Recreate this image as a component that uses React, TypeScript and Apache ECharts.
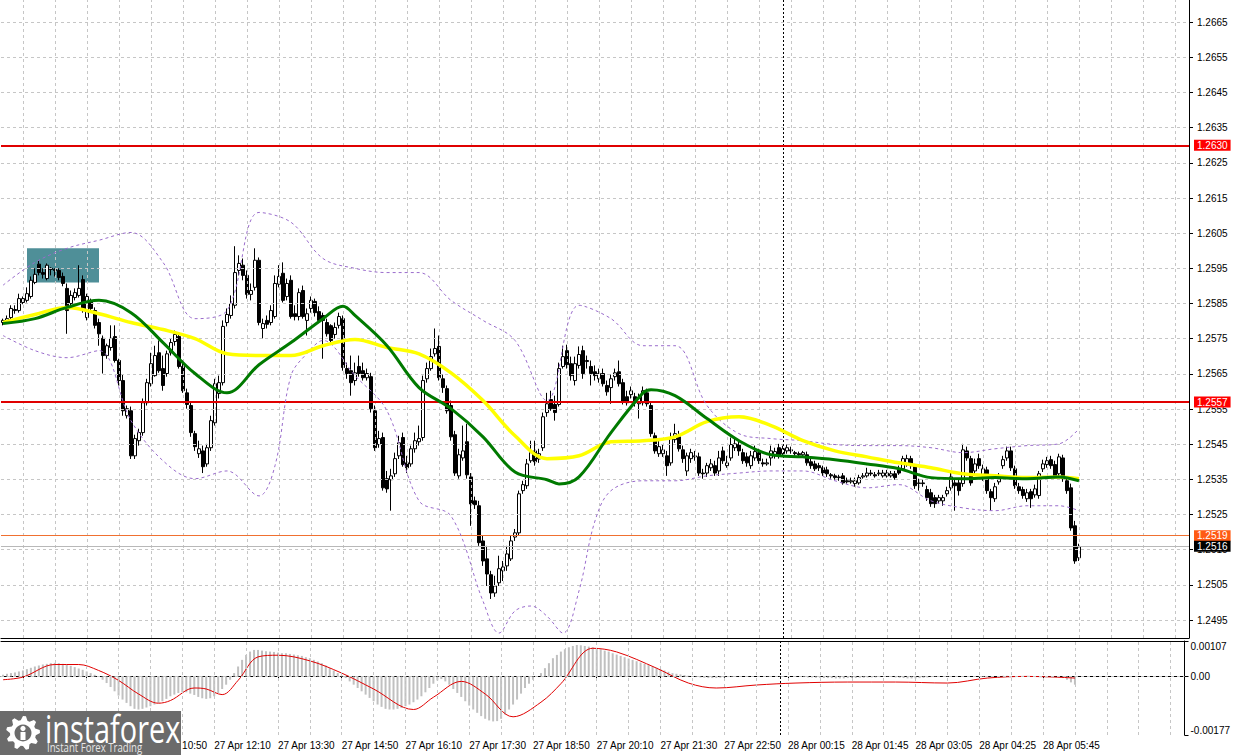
import React, { useEffect, useRef } from 'react';
import * as echarts from 'echarts';

// ---------- axis labels ----------
const priceTicks = [1.2495, 1.2505, 1.2515, 1.2525, 1.2535, 1.2545, 1.2555, 1.2565, 1.2575, 1.2585, 1.2595, 1.2605, 1.2615, 1.2625, 1.2635, 1.2645, 1.2655, 1.2665];
const macdTicks = [-0.00177, 0, 0.00107];
const timeLabels = [
  '27 Apr 08:10', '27 Apr 09:30', '27 Apr 10:50', '27 Apr 12:10', '27 Apr 13:30', '27 Apr 14:50',
  '27 Apr 16:10', '27 Apr 17:30', '27 Apr 18:50', '27 Apr 20:10', '27 Apr 21:30', '27 Apr 22:50',
  '28 Apr 00:15', '28 Apr 01:45', '28 Apr 03:05', '28 Apr 04:25', '28 Apr 05:45',
];
const LABEL_START = 5;
const LABEL_STEP = 16;
const GRID_STEP = 8;
const SLOT_COUNT = 297;
const DAY_SEPARATOR = 195;

// ---------- M5 candles: [open, close, low, high] in points (price x 100000) ----------
const candlePoints = [
  [125796,125802,125788,125807],[125799,125807,125793,125816],[125810,125836,125802,125845],[125833,125830,125821,125845],
  [125830,125864,125824,125878],[125853,125864,125848,125870],[125859,125878,125853,125896],[125870,125916,125864,125927],
  [125910,125933,125905,125950],[125962,125938,125930,125973],[125938,125933,125921,125950],[125921,125959,125916,125964],
  [125950,125947,125930,125953],[125947,125944,125927,125950],[125944,125924,125916,125950],[125927,125907,125899,125938],
  [125893,125830,125764,125907],[125850,125873,125842,125887],[125867,125881,125859,125893],[125873,125893,125867,125959],
  [125918,125830,125824,125930],[125810,125870,125802,125878],[125859,125836,125824,125864],[125830,125788,125779,125839],
  [125796,125764,125730,125807],[125751,125702,125651,125759],[125702,125730,125693,125736],[125725,125751,125716,125788],
  [125756,125688,125682,125788],[125688,125631,125617,125693],[125631,125545,125531,125648],[125531,125551,125523,125560],
  [125545,125417,125408,125557],[125417,125466,125408,125477],[125460,125483,125446,125494],[125483,125568,125474,125580],
  [125568,125625,125560,125636],[125622,125679,125614,125710],[125645,125702,125642,125730],[125710,125659,125653,125745],
  [125665,125617,125602,125702],[125651,125707,125642,125716],[125710,125739,125702,125750],[125742,125762,125730,125773],
  [125756,125671,125665,125767],[125671,125602,125596,125688],[125596,125563,125551,125608],[125560,125483,125471,125568],
  [125480,125443,125431,125488],[125423,125437,125411,125460],[125431,125386,125368,125446],[125394,125440,125386,125451],
  [125440,125517,125431,125531],[125511,125622,125503,125636],[125594,125625,125580,125645],[125625,125785,125617,125802],
  [125796,125819,125785,125836],[125816,125850,125807,125873],[125845,125938,125836,126013],[125944,125964,125930,125987],
  [125959,125930,125916,125978],[125930,125876,125864,125944],[125876,125887,125859,125907],[125896,125973,125887,126007],
  [125973,125796,125788,125981],[125779,125793,125751,125807],[125802,125791,125779,125816],[125796,125830,125788,125845],
  [125813,125907,125807,125930],[125905,125927,125896,125959],[125936,125859,125853,125967],[125870,125907,125859,125921],
  [125916,125813,125807,125930],[125821,125813,125802,125845],[125813,125881,125802,125893],[125887,125813,125807,125901],
  [125802,125821,125759,125836],[125836,125859,125824,125870],[125856,125824,125813,125864],[125827,125802,125796,125842],
  [125816,125802,125693,125824],[125796,125764,125756,125807],[125787,125745,125739,125791],[125762,125782,125750,125796],
  [125788,125813,125779,125824],[125807,125668,125659,125816],[125665,125651,125636,125682],[125659,125625,125588,125702],
  [125631,125653,125617,125682],[125671,125651,125642,125702],[125659,125639,125631,125682],[125639,125651,125631,125665],
  [125642,125551,125540,125653],[125545,125440,125431,125560],[125449,125466,125440,125488],[125469,125326,125318,125483],
  [125352,125323,125312,125374],[125349,125360,125261,125380],[125366,125409,125357,125426],[125417,125454,125408,125474],
  [125469,125392,125386,125483],[125397,125383,125368,125417],[125394,125437,125386,125446],[125437,125460,125426,125483],
  [125457,125466,125446,125503],[125469,125631,125460,125645],[125636,125665,125625,125682],[125665,125699,125659,125722],
  [125707,125722,125699,125779],[125728,125639,125631,125759],[125636,125611,125596,125648],[125608,125545,125537,125617],
  [125560,125471,125460,125574],[125477,125368,125360,125488],[125360,125420,125352,125437],[125411,125431,125403,125503],
  [125457,125363,125352,125508],[125357,125280,125218,125368],[125289,125278,125266,125301],[125275,125170,125161,125289],
  [125175,125118,125104,125190],[125124,125081,125047,125161],[125079,125027,125010,125090],[125027,125047,125016,125076],
  [125056,125096,125047,125133],[125090,125101,125061,125118],[125104,125138,125090,125161],[125124,125175,125118,125190],
  [125186,125198,125175,125209],[125198,125309,125190,125318],[125318,125335,125309,125346],[125332,125394,125323,125408],
  [125403,125426,125397,125460],[125431,125400,125389,125460],[125408,125423,125397,125437],[125440,125528,125431,125540],
  [125540,125565,125528,125596],[125577,125551,125545,125602],[125563,125540,125517,125588],[125563,125665,125557,125682],
  [125671,125699,125665,125730],[125716,125676,125665,125733],[125679,125645,125631,125699],[125631,125679,125617,125699],
  [125674,125705,125665,125728],[125716,125651,125636,125730],[125685,125688,125665,125702],[125671,125651,125617,125688],
  [125656,125645,125631,125674],[125636,125651,125625,125665],[125651,125622,125614,125665],[125617,125599,125588,125631],
  [125611,125636,125565,125648],[125642,125653,125631,125665],[125656,125622,125614,125688],[125625,125571,125563,125636],
  [125585,125568,125560,125602],[125591,125602,125580,125614],[125585,125568,125557,125596],[125565,125582,125523,125594],
  [125568,125602,125560,125614],[125596,125565,125557,125608],[125560,125480,125471,125568],[125474,125431,125423,125483],
  [125423,125443,125414,125460],[125423,125434,125414,125449],[125417,125389,125360,125431],[125397,125466,125389,125483],
  [125463,125480,125454,125508],[125471,125437,125429,125488],[125434,125409,125397,125446],[125374,125417,125360,125426],
  [125409,125426,125397,125437],[125414,125417,125403,125431],[125414,125368,125360,125426],[125368,125366,125352,125380],
  [125368,125389,125357,125397],[125383,125394,125374,125408],[125389,125368,125360,125403],[125374,125411,125360,125431],
  [125431,125403,125394,125443],[125389,125397,125383,125417],[125411,125449,125403,125469],[125440,125451,125431,125466],
  [125449,125431,125417,125460],[125426,125403,125394,125437],[125414,125397,125386,125426],[125389,125417,125380,125431],
  [125411,125429,125403,125446],[125426,125403,125394,125437],[125397,125394,125386,125409],[125394,125397,125389,125409],
  [125411,125431,125389,125446],[125417,125429,125409,125440],[125440,125417,125409,125451],[125423,125437,125414,125446],
  [125431,125440,125423,125449],[125434,125431,125423,125443],[125426,125423,125417,125431],[125423,125420,125411,125429],
  [125420,125426,125414,125431],[125420,125397,125389,125429],[125400,125389,125380,125409],[125394,125380,125374,125403],
  [125389,125383,125374,125397],[125383,125368,125360,125389],[125377,125366,125357,125386],[125363,125360,125352,125368],
  [125360,125355,125349,125366],[125357,125355,125346,125363],[125360,125340,125335,125368],[125346,125343,125338,125355],
  [125343,125346,125338,125355],[125338,125346,125329,125355],[125340,125355,125335,125363],[125357,125360,125352,125368],
  [125360,125368,125355,125383],[125368,125366,125360,125377],[125363,125360,125355,125371],[125366,125368,125360,125377],
  [125360,125368,125355,125377],[125360,125368,125355,125377],[125360,125366,125355,125374],[125366,125355,125349,125374],
  [125380,125368,125363,125389],[125380,125409,125374,125417],[125394,125409,125386,125420],[125409,125389,125380,125417],
  [125386,125332,125323,125394],[125338,125340,125318,125352],[125340,125338,125329,125349],[125321,125298,125289,125332],
  [125312,125281,125272,125323],[125298,125281,125269,125306],[125289,125298,125281,125306],[125289,125298,125275,125306],
  [125309,125318,125301,125329],[125326,125357,125318,125374],[125340,125332,125261,125352],[125340,125318,125304,125352],
  [125338,125434,125329,125451],[125431,125411,125403,125443],[125409,125340,125332,125417],[125374,125394,125363,125409],
  [125409,125389,125380,125423],[125360,125380,125346,125392],[125377,125318,125309,125386],[125315,125298,125261,125323],
  [125295,125329,125286,125340],[125343,125357,125335,125368],[125389,125406,125380,125417],[125411,125431,125403,125443],
  [125431,125383,125374,125443],[125380,125332,125323,125389],[125329,125318,125309,125340],[125321,125304,125295,125329],
  [125295,125312,125286,125323],[125315,125295,125269,125323],[125306,125323,125298,125335],[125304,125366,125295,125374],
  [125380,125394,125371,125406],[125392,125403,125383,125414],[125406,125389,125380,125417],[125392,125360,125352,125403],
  [125366,125414,125357,125423],[125411,125352,125343,125420],[125346,125318,125309,125355],[125326,125212,125204,125338],
  [125218,125118,125110,125232],[125127,125158,125118,125167],
];

// ---------- indicator lines: [bar index, price] ----------
const maYellow = [
  [0,1.25796],[8,1.25819],[16,1.25839],[24,1.25821],[32,1.25796],[40,1.25776],[48,1.2575],[56,1.25707],
  [64,1.25702],[72,1.25702],[80,1.2573],[88,1.25748],[96,1.25725],[104,1.25707],[112,1.25653],[120,1.25574],
  [128,1.25474],[136,1.25409],[144,1.25417],[152,1.25457],[160,1.2546],[168,1.25471],[176,1.25514],[184,1.25528],
  [192,1.25503],[200,1.2546],[208,1.25431],[216,1.25414],[224,1.25397],[232,1.25383],[240,1.25366],[248,1.2536],
  [256,1.25355],[264,1.25357],[269,1.25352],
];
const maGreen = [
  [0,1.25793],[8,1.25807],[16,1.25839],[24,1.25859],[32,1.25824],[40,1.25739],[48,1.25651],[56,1.25596],
  [64,1.25676],[72,1.25739],[80,1.25807],[85,1.25842],[88,1.25816],[96,1.2573],[104,1.25611],[112,1.25551],[120,1.25471],
  [128,1.25371],[136,1.25349],[139,1.25337],[144,1.25357],[152,1.25483],[160,1.25596],[162,1.25605],[168,1.25588],[176,1.25523],
  [184,1.2546],[192,1.2542],[200,1.25414],[208,1.25406],[216,1.25394],[224,1.2538],[232,1.25355],[240,1.25352],
  [248,1.25355],[256,1.25352],[264,1.25357],[269,1.25346],
];
const bandUpper = [
  [0,1.25902],[8,1.25967],[16,1.26007],[24,1.2603],[32,1.26052],[40,1.25967],[48,1.25807],[56,1.2583],
  [64,1.26109],[72,1.26081],[80,1.25978],[88,1.2595],[96,1.25938],[104,1.25938],[112,1.25859],[120,1.25802],
  [128,1.25745],[136,1.25574],[144,1.25845],[152,1.25807],[160,1.2573],[168,1.2573],[176,1.2556],[184,1.2548],
  [192,1.25466],[200,1.2546],[208,1.25449],[216,1.25446],[224,1.25446],[232,1.2544],[240,1.25426],[248,1.25437],
  [256,1.25446],[264,1.25451],[269,1.25494],
];
const bandLower = [
  [0,1.25759],[8,1.25716],[16,1.25696],[24,1.25716],[32,1.25517],[40,1.25403],[48,1.25352],[56,1.25374],
  [64,1.25303],[68,1.25389],[72,1.25645],[76,1.25708],[80,1.25745],[88,1.25645],[96,1.25545],[104,1.25289],
  [112,1.25246],[120,1.25004],[124,1.24913],[128,1.24976],[132,1.2499],[136,1.24961],[140,1.24913],[144,1.25033],
  [148,1.25232],[152,1.25318],[160,1.25346],[168,1.25346],[176,1.2536],[184,1.25368],[192,1.25374],[200,1.25374],
  [208,1.25346],[216,1.25326],[224,1.25335],[232,1.25289],[240,1.25269],[248,1.25261],[256,1.25275],[264,1.25275],
  [269,1.25261],
];

// ---------- MACD (values x 100000) ----------
const macdHistPoints = [
  5,8,10,12, 15,18,22,26,30,33,36,38,40,41, 40,38,35,32,28,24,20, 15,10,5,0,
  -10,-20,-32,-45,-58,-70,-80,-90,-98, -100,-98,-94,-90,-85,-80, -75,-68,-60,-55,-50,-48,-48,
  -52,-56,-62,-66,-68,-66,-60,-50, -38,-25,-10, 10,30,50,65,75,80, 80,78,76,75,74,72,70,70,68,66,
  64,62,58,55,50,45,40,33,25,18,10, 3,-5,
  -15,-25,-35,-45,-55,-65,-75,-85,-92,-98,-100,-100, -98,-95,-90,-85,-78,-70,-60,-48,
  -35,-22,-12,-8, -15,-25,-38,-50,-62,-75,-88,-100,-110,-120,-128,-133,-136,-135,
  -128,-115,-100,-85,-70,-52,-35,-22,-10, 0,10, 25,40,55,65,75,82,88,92,95,
  94,92,90,88,85,82,78,75,70,66, 62,58,54,50,46,42,38,34,30,26,22,18,14,10,8,6,
  4,2,0,-2,-3,-4,-5,-5,-5,-4,-3,-2,-2,-1,0,0,1,1,0,0,-1,-1,0,0,1,
  1,0,0,-1,-1,-2,-3,-3,-4,-4,-5,-5,-5,-6,-6,-6,-5,-5,-5,-4,-4,-3,-3,-3,-2,-1,-1,-2,-3,-4,
  -5,-6,-6,-6,-5,-4,-3,-2,-1,0,1,1,0,0,0,
  0,0,0,0,-1,-2,-2,-1,0,1,2,2,1,0,-1,-1,-1,0,0,1,1,1,1,0,
  -2,-5,-10,-18,-25,
];
const macdSignalPoints = [
  [0,-10],[5,-2],[13,36],[19,36],[24,18],[29,-12],[34,-53],[39,-81],[42,-73],[48,-35],[51,-38],[55,-55],
  [59,-12],[64,59],[69,64],[77,47],[85,10],[93,-38],[103,-100],[108,-63],[115,-15],[121,-53],[128,-122],
  [135,-78],[140,-22],[148,85],[154,74],[164,25],[172,-20],[179,-35],[189,-26],[199,-20],[212,-17],[224,-17],
  [237,-20],[247,-5],[257,0],[264,-2],[269,-5],
];

// ---------- horizontal levels and highlight box ----------
const levels = [
  { price: 1.2630, line: '#e00000', box: '#ff0000', width: 2 },
  { price: 1.2557, line: '#e00000', box: '#ff0000', width: 2 },
  { price: 1.2519, line: '#f07030', box: '#ff5a14', width: 1 },
  { price: 1.2516, line: '#b8b8b8', box: '#000000', width: 1 },
];
const highlightBox = { fromIdx: 6, toIdx: 24, top: 1.26007, bottom: 1.2591 };

const FONT = '"Liberation Sans", Arial, sans-serif';

function gearPoints(cx: number, cy: number, rOut: number, rIn: number, teeth: number) {
  const pts: number[][] = [];
  const n = teeth * 4;
  for (let k = 0; k < n; k++) {
    const a = (k / n) * Math.PI * 2 - Math.PI / 2;
    const r = k % 4 === 0 || k % 4 === 1 ? rOut : rIn;
    pts.push([cx + r * Math.cos(a), cy + r * Math.sin(a)]);
  }
  return pts;
}

export default function App() {
  const ref = useRef<HTMLDivElement>(null);

  useEffect(() => {
    if (!ref.current) return;
    const chart = echarts.init(ref.current, null, { renderer: 'svg' });
    const cats = Array.from({ length: SLOT_COUNT }, (_, i) => String(i));
    const lastLabelIdx = LABEL_START + LABEL_STEP * (timeLabels.length - 1);
    const isLabelIdx = (i: number) => i >= LABEL_START && i <= lastLabelIdx && (i - LABEL_START) % LABEL_STEP === 0;
    const gridIdx: number[] = [];
    for (let i = LABEL_START; i < SLOT_COUNT; i += GRID_STEP) gridIdx.push(i);

    const candles = candlePoints.map((r) => r.map((v) => v / 100000));
    const hist = macdHistPoints.map((v) => v / 100000);
    const signal = macdSignalPoints.map(([i, v]) => [i, v / 100000]);

    const gridLine = { color: '#c6c6c6', type: [3, 3], width: 1 };
    const sepLine = { color: '#000000', type: [2, 2], width: 1 };

    const option: any = {
      animation: false,
      backgroundColor: '#ffffff',
      grid: [
        { left: 1, top: 0, width: 1188, height: 638 },
        { left: 1, top: 641, width: 1188, height: 94 },
      ],
      xAxis: [
        {
          type: 'category', gridIndex: 0, data: cats, boundaryGap: true,
          axisLine: { show: true, lineStyle: { color: '#000' } },
          axisTick: { show: false }, axisLabel: { show: false }, splitLine: { show: false },
        },
        {
          type: 'category', gridIndex: 1, data: cats, boundaryGap: true,
          axisLine: { show: true, lineStyle: { color: '#000' } },
          axisTick: { show: true, alignWithLabel: true, interval: (i: number) => isLabelIdx(i), length: 4, lineStyle: { color: '#000' } },
          axisLabel: {
            show: true, interval: (i: number) => isLabelIdx(i),
            formatter: (_v: string, i: number) => timeLabels[(i - LABEL_START) / LABEL_STEP] ?? '',
            align: 'left', color: '#000', fontFamily: FONT, fontSize: 10, margin: 5,
          },
          splitLine: { show: false },
        },
        {
          type: 'category', gridIndex: 1, data: cats, position: 'top',
          axisLine: { show: true, lineStyle: { color: '#000' } },
          axisTick: { show: false }, axisLabel: { show: false }, splitLine: { show: false },
        },
      ],
      yAxis: [
        {
          type: 'value', gridIndex: 0, position: 'right', min: 1.24899, max: 1.26713,
          axisLine: { show: true, lineStyle: { color: '#000' } },
          axisTick: { show: true, customValues: priceTicks, length: 4, lineStyle: { color: '#000' } },
          axisLabel: { customValues: priceTicks, formatter: (v: number) => v.toFixed(4), color: '#000', fontFamily: FONT, fontSize: 10, margin: 8 },
          splitLine: { show: false },
        },
        {
          type: 'value', gridIndex: 1, position: 'right', min: -0.00177, max: 0.00107,
          axisLine: { show: true, lineStyle: { color: '#000' } },
          axisTick: { show: true, customValues: macdTicks, length: 4, lineStyle: { color: '#000' } },
          axisLabel: {
            customValues: macdTicks, formatter: (v: number) => (Math.abs(v) < 1e-9 ? '0.00' : v.toFixed(5)),
            color: '#000', fontFamily: FONT, fontSize: 10, margin: 6,
            verticalAlignMinLabel: 'bottom', verticalAlignMaxLabel: 'top',
          },
          splitLine: { show: false },
        },
      ],
      series: [
        {
          name: 'grid', type: 'line', xAxisIndex: 0, yAxisIndex: 0, data: [], z: 1, silent: true,
          markLine: {
            silent: true, precision: 5, symbol: ['none', 'none'], label: { show: false }, emphasis: { disabled: true },
            lineStyle: gridLine,
            data: [
              ...priceTicks.map((v) => ({ yAxis: v })),
              ...gridIdx.map((i) => ({ xAxis: cats[i] })),
              { xAxis: cats[DAY_SEPARATOR], lineStyle: sepLine },
            ],
          },
        },
        {
          name: 'box', type: 'line', xAxisIndex: 0, yAxisIndex: 0, data: [], z: 2, silent: true,
          markArea: {
            silent: true, itemStyle: { color: '#4f8f98', opacity: 1 }, emphasis: { disabled: true },
            data: [[
              { xAxis: cats[highlightBox.fromIdx], yAxis: highlightBox.top },
              { xAxis: cats[highlightBox.toIdx], yAxis: highlightBox.bottom },
            ]],
          },
        },
        {
          name: 'levels', type: 'line', xAxisIndex: 0, yAxisIndex: 0, data: [], z: 3, silent: true,
          markLine: {
            silent: true, precision: 5, symbol: ['none', 'none'], emphasis: { disabled: true },
            data: levels.map((l) => ({
              yAxis: l.price,
              lineStyle: { color: l.line, width: l.width, type: 'solid' },
              label: {
                show: true, position: 'end', distance: 5,
                formatter: () => l.price.toFixed(4),
                color: '#ffffff', backgroundColor: l.box, padding: [1, 3, 0, 3],
                fontFamily: FONT, fontSize: 10,
              },
            })),
          },
        },
        {
          name: 'GBPUSD', type: 'candlestick', xAxisIndex: 0, yAxisIndex: 0, z: 4,
          data: candles, barWidth: 3,
          itemStyle: { color: '#ffffff', color0: '#000000', borderColor: '#000000', borderColor0: '#000000', borderWidth: 1 },
        },
        {
          name: 'BB upper', type: 'line', xAxisIndex: 0, yAxisIndex: 0, z: 5, data: bandUpper, smooth: 0.35,
          symbol: 'none', lineStyle: { color: '#9a6ccc', width: 1, type: [3, 3] }, silent: true,
        },
        {
          name: 'BB lower', type: 'line', xAxisIndex: 0, yAxisIndex: 0, z: 5, data: bandLower, smooth: 0.35,
          symbol: 'none', lineStyle: { color: '#9a6ccc', width: 1, type: [3, 3] }, silent: true,
        },
        {
          name: 'MA slow', type: 'line', xAxisIndex: 0, yAxisIndex: 0, z: 6, data: maYellow, smooth: 0.35,
          symbol: 'none', lineStyle: { color: '#ffff00', width: 3.5 }, silent: true,
        },
        {
          name: 'MA fast', type: 'line', xAxisIndex: 0, yAxisIndex: 0, z: 7, data: maGreen, smooth: 0.35,
          symbol: 'none', lineStyle: { color: '#007a00', width: 3 }, silent: true,
        },
        {
          name: 'macdGrid', type: 'line', xAxisIndex: 1, yAxisIndex: 1, data: [], z: 1, silent: true,
          markLine: {
            silent: true, precision: 6, symbol: ['none', 'none'], label: { show: false }, emphasis: { disabled: true },
            lineStyle: gridLine,
            data: [
              { yAxis: 0 },
              ...gridIdx.map((i) => ({ xAxis: cats[i] })),
              { xAxis: cats[DAY_SEPARATOR], lineStyle: sepLine },
            ],
          },
        },
        {
          name: 'MACD', type: 'bar', xAxisIndex: 1, yAxisIndex: 1, z: 2, data: hist, barWidth: 2,
          itemStyle: { color: '#c0c0c0' }, silent: true,
        },
        {
          name: 'Signal', type: 'line', xAxisIndex: 1, yAxisIndex: 1, z: 3, data: signal, smooth: 0.35,
          symbol: 'none', lineStyle: { color: '#e00000', width: 1 }, silent: true,
        },
      ],
      graphic: [
        { type: 'rect', z: 100, shape: { x: 0, y: 711, width: 181, height: 44 }, style: { fill: '#6b6b6b' } },
        { type: 'polygon', z: 101, shape: { points: gearPoints(23, 733, 17, 13, 9) }, style: { fill: '#ffffff' } },
        { type: 'circle', z: 102, shape: { cx: 23, cy: 733, r: 8.5 }, style: { fill: '#6b6b6b' } },
        { type: 'circle', z: 103, shape: { cx: 23, cy: 728.5, r: 2.6 }, style: { fill: '#ffffff' } },
        { type: 'rect', z: 103, shape: { x: 20.5, y: 732, width: 5, height: 8 }, style: { fill: '#ffffff' } },
        {
          type: 'text', z: 104, x: 45, y: 709, scaleX: 0.76,
          style: { text: 'instaforex', fill: '#ffffff', fontSize: 38, fontFamily: '"Open Sans", sans-serif', verticalAlign: 'top', textVerticalAlign: 'top' },
        },
        {
          type: 'text', z: 104, x: 47, y: 741, scaleX: 0.8,
          style: { text: 'Instant Forex Trading', fill: '#e6e6e6', fontSize: 12, fontFamily: '"Open Sans", sans-serif', verticalAlign: 'top', textVerticalAlign: 'top' },
        },
      ],
    };

    chart.setOption(option);
    return () => chart.dispose();
  }, []);

  return (
    <div
      ref={ref}
      style={{ position: 'absolute', left: 0, top: 0, width: 1233, height: 755, background: '#ffffff' }}
    />
  );
}
